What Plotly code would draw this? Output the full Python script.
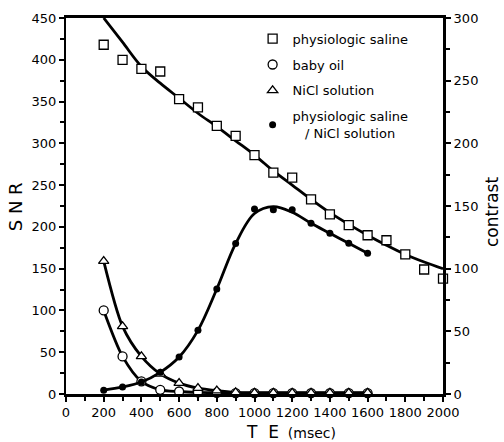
import plotly.graph_objects as go

# ---- data ----
te = [200, 300, 400, 500, 600, 700, 800, 900, 1000, 1100, 1200, 1300, 1400, 1500, 1600]
te_saline = [200, 300, 400, 500, 600, 700, 800, 900, 1000, 1100, 1200, 1300, 1400,
             1500, 1600, 1700, 1800, 1900, 2000]
snr_saline = [418, 400, 389, 386, 353, 343, 321, 309, 286, 265, 259, 233, 215,
              202, 190, 184, 167, 149, 138]
snr_babyoil = [100, 45, 15, 5, 3, 2, 1.5, 1, 1, 1, 1, 1, 1, 1, 1]
snr_nicl = [159, 81, 45, 24, 13, 7, 4, 2, 1.5, 1.5, 1.5, 1.5, 1.5, 1.5, 1.5]
contrast = [3, 5.6, 9.6, 17.3, 29.5, 50.8, 83.8, 120, 147.6, 147, 147, 136.2,
            128.2, 120.2, 112.3]

# fitted curves
fit_te = [200, 300, 400, 500, 600, 700, 800, 900, 1000, 1100, 1200, 1300, 1400,
          1500, 1600, 1700, 1800, 1900, 2000]
fit_saline = [450, 421, 392, 372, 354, 336, 320, 303, 286, 267, 250, 233, 217,
              203, 190, 178, 167, 158, 150]
fit_contrast = [3, 5.6, 9.6, 17.3, 29.5, 50.8, 83.8, 120, 144, 149.5, 145, 136.2,
                128.2, 120.2, 112.3]

FONT = "DejaVu Sans"
LW = 2.8

fig = go.Figure()

# lines (no legend)
fig.add_trace(go.Scatter(x=fit_te, y=fit_saline, mode="lines", line=dict(color="black", width=LW, shape="spline"),
                         showlegend=False, hoverinfo="skip"))
fig.add_trace(go.Scatter(x=te, y=snr_babyoil, mode="lines", line=dict(color="black", width=LW, shape="spline", smoothing=0.8),
                         showlegend=False, hoverinfo="skip"))
fig.add_trace(go.Scatter(x=te, y=snr_nicl, mode="lines", line=dict(color="black", width=LW, shape="spline", smoothing=0.8),
                         showlegend=False, hoverinfo="skip"))
fig.add_trace(go.Scatter(x=te, y=fit_contrast, mode="lines", yaxis="y2",
                         line=dict(color="black", width=LW, shape="spline", smoothing=1),
                         showlegend=False, hoverinfo="skip"))

# markers (legend)
fig.add_trace(go.Scatter(x=te_saline, y=snr_saline, mode="markers", name="physiologic saline",
                         legendgroup="a", cliponaxis=False,
                         marker=dict(symbol="square", size=9, color="white", line=dict(color="black", width=1.3))))
fig.add_trace(go.Scatter(x=te, y=snr_babyoil, mode="markers", name="baby oil",
                         legendgroup="b", cliponaxis=False,
                         marker=dict(symbol="circle", size=9, color="white", line=dict(color="black", width=1.3))))
fig.add_trace(go.Scatter(x=te, y=snr_nicl, mode="markers", name="NiCl solution",
                         legendgroup="c", cliponaxis=False,
                         marker=dict(symbol="triangle-up", size=9, color="white", line=dict(color="black", width=1.3))))
fig.add_trace(go.Scatter(x=te, y=contrast, mode="markers", yaxis="y2",
                         name="physiologic saline<br>&nbsp;&nbsp;&nbsp;/ NiCl solution",
                         legendgroup="d", cliponaxis=False,
                         marker=dict(symbol="circle", size=7, color="black")))

fig.update_layout(
    width=504, height=442,
    margin=dict(l=66, r=61, t=18, b=48),
    paper_bgcolor="white", plot_bgcolor="white",
    font=dict(family=FONT, size=13, color="black"),
    xaxis=dict(range=[0, 2000], dtick=200, tick0=0, showgrid=False, zeroline=False,
               showline=True, linecolor="black", linewidth=2.5, mirror=True,
               ticks="outside", ticklen=5, tickwidth=1.5, tickcolor="black",
               minor=dict(dtick=100, ticks="outside", ticklen=4, tickwidth=1.5, tickcolor="black"),
               tickfont=dict(size=13)),
    yaxis=dict(range=[0, 450], dtick=50, tick0=0, showgrid=False, zeroline=False,
               showline=True, linecolor="black", linewidth=2,
               ticks="outside", ticklen=5, tickwidth=1.5, tickcolor="black",
               minor=dict(dtick=25, ticks="outside", ticklen=4, tickwidth=1.5, tickcolor="black"),
               tickfont=dict(size=13)),
    yaxis2=dict(range=[0, 300], dtick=50, tick0=0, overlaying="y", side="right",
                showgrid=False, zeroline=False, showline=True, linecolor="black", linewidth=3,
                ticks="outside", ticklen=5, tickwidth=1.5, tickcolor="black",
                minor=dict(dtick=25, ticks="outside", ticklen=4, tickwidth=1.5, tickcolor="black"),
                tickfont=dict(size=13)),
    legend=dict(x=0.495, y=0.985, xanchor="left", yanchor="top", bgcolor="rgba(0,0,0,0)",
                traceorder="grouped", tracegroupgap=6, itemwidth=30,
                font=dict(family=FONT, size=13)),
    showlegend=True,
)

fig.add_annotation(text="S N R", xref="paper", yref="paper", x=-0.135, y=0.497,
                   xanchor="center", yanchor="middle",
                   textangle=-90, showarrow=False, font=dict(family=FONT, size=18))
fig.add_annotation(text="contrast", xref="paper", yref="paper", x=1.13, y=0.484,
                   xanchor="center", yanchor="middle",
                   textangle=-90, showarrow=False, font=dict(family=FONT, size=17))
fig.add_annotation(text="<span style='font-size:17px'>T&nbsp;&nbsp;E</span>&nbsp;&nbsp;(msec)",
                   xref="paper", yref="paper", x=0.598, y=-0.1,
                   xanchor="center", yanchor="middle", showarrow=False,
                   font=dict(family=FONT, size=14))

fig.write_html("out.html")
